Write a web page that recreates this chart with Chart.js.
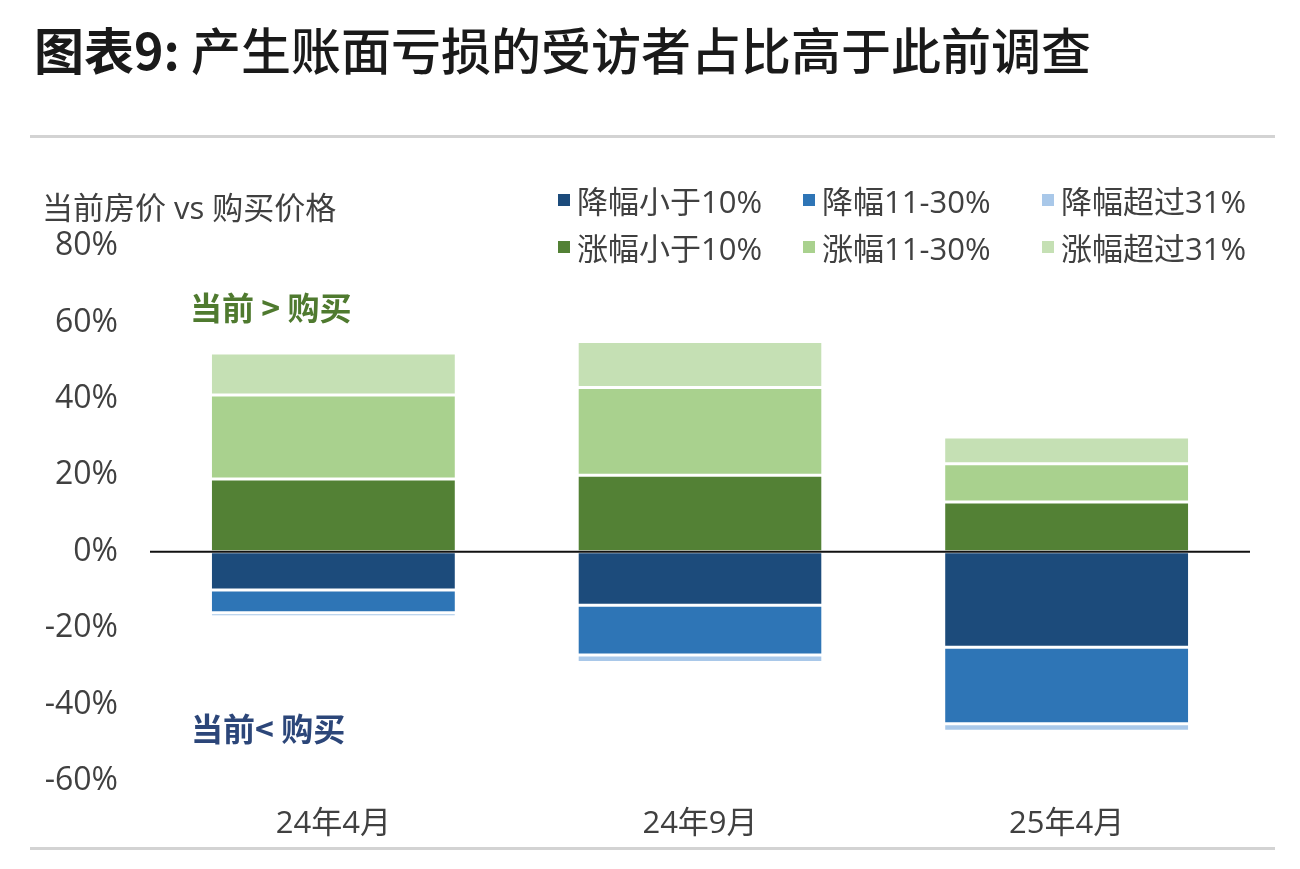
<!DOCTYPE html>
<html>
<head>
<meta charset="utf-8">
<script src="https://cdn.jsdelivr.net/npm/chart.js@4"></script>
<style>
  body { margin: 0; background: #fff; }
  #wrap { position: relative; width: 1300px; height: 869px; font-family: "Open Sans", "Noto Sans CJK SC", sans-serif; color: #404040; }
  #title { position: absolute; left: 34px; top: 12px; font-family: "Noto Sans CJK SC", sans-serif; font-size: 50px; font-weight: 500; color: #1a1a1a; white-space: nowrap; }
  #title b { font-weight: 700; }
  .rule { position: absolute; left: 30px; width: 1245px; height: 3px; background: #d3d3d3; }
  #ytitle { position: absolute; left: 42px; top: 183px; font-size: 31px; white-space: nowrap; }
  #legend { position: absolute; left: 558px; top: 176px; display: grid; grid-template-columns: 245px 239px 220px; grid-auto-rows: 47px; font-size: 31px; }
  #legend div { display: flex; align-items: center; white-space: nowrap; }
  #legend span { display: inline-block; width: 12px; height: 12px; margin-right: 7px; }
  .note { position: absolute; font-family: "Noto Sans CJK SC", sans-serif; font-size: 32px; font-weight: 700; white-space: nowrap; }
  canvas { position: absolute; left: 0; top: 0; }
</style>
</head>
<body>
<div id="wrap">
  <div id="title"><b>图表9:</b> 产生账面亏损的受访者占比高于此前调查</div>
  <div class="rule" style="top:135px"></div>
  <div class="rule" style="top:847px"></div>
  <canvas id="chart" width="1300" height="869"></canvas>
  <div id="ytitle">当前房价 vs 购买价格</div>
  <div id="legend"></div>
  <div class="note" style="left:190px; top:283px; color:#4f7a2f">当前 &gt; 购买</div>
  <div class="note" style="left:191px; top:704px; color:#2c4679">当前&lt; 购买</div>
</div>
<script>
const labels = ['24年4月', '24年9月', '25年4月']

// share of respondents, % (negative = price now below purchase price)
const downLess10 = [-10, -14, -25]
const down11to30 = [-6, -13, -20]
const downOver31 = [-1, -2, -2]
const upLess10 = [19, 20, 13]
const up11to30 = [22, 23, 10]
const upOver31 = [11, 12, 7]

const yTicks = [-60, -40, -20, 0, 20, 40, 60, 80]

const series = [
    { label: '降幅小于10%', data: downLess10, color: '#1c4b7b' },
    { label: '降幅11-30%', data: down11to30, color: '#2e75b6' },
    { label: '降幅超过31%', data: downOver31, color: '#a9c8e9' },
    { label: '涨幅小于10%', data: upLess10, color: '#538135' },
    { label: '涨幅11-30%', data: up11to30, color: '#a9d18e' },
    { label: '涨幅超过31%', data: upOver31, color: '#c5e0b4' }
]

const yFont = { family: '"Open Sans", "Noto Sans CJK SC", sans-serif', size: 32 }
const xFont = { family: '"Open Sans", "Noto Sans CJK SC", sans-serif', size: 31 }

// black line at 0%
const zeroLine = {
    id: 'zeroLine',
    afterDatasetsDraw(chart) {
        const y = chart.scales.y.getPixelForValue(0)
        const ctx = chart.ctx
        ctx.save()
        ctx.strokeStyle = '#111'
        ctx.lineWidth = 2
        ctx.beginPath()
        ctx.moveTo(chart.chartArea.left, y)
        ctx.lineTo(chart.chartArea.right, y)
        ctx.stroke()
        ctx.restore()
    }
}

const myChart = new Chart(document.getElementById('chart'), {
    type: 'bar',
    data: {
        labels: labels,
        datasets: series.map(s => ({
            label: s.label,
            data: s.data,
            backgroundColor: s.color,
            borderColor: '#fff',
            borderWidth: { top: 1.5, bottom: 1.5, left: 0, right: 0 },
            borderSkipped: false,
            categoryPercentage: 0.663,
            barPercentage: 1
        }))
    },
    options: {
        responsive: false,
        animation: false,
        layout: { padding: { left: 0, right: 50, top: 246, bottom: 28 } },
        plugins: {
            legend: { display: false },
            tooltip: { enabled: false }
        },
        scales: {
            x: {
                stacked: true,
                grid: { display: false, drawTicks: false },
                border: { display: false },
                ticks: { color: '#404040', font: xFont, padding: 25 },
                afterFit: s => { s.height = 60 }
            },
            y: {
                stacked: true,
                min: yTicks[0],
                max: yTicks[yTicks.length - 1],
                grid: { display: false, drawTicks: false },
                border: { display: false },
                afterBuildTicks: s => { s.ticks = yTicks.map(v => ({ value: v })) },
                ticks: { color: '#404040', font: yFont, padding: 32, callback: v => v + '%' },
                afterFit: s => { s.width = 150 }
            }
        }
    },
    plugins: [zeroLine]
})

const legend = document.getElementById('legend')
series.forEach(s => {
    const d = document.createElement('div')
    d.innerHTML = '<span style="background:' + s.color + '"></span>' + s.label
    legend.appendChild(d)
})
</script>
</body>
</html>
